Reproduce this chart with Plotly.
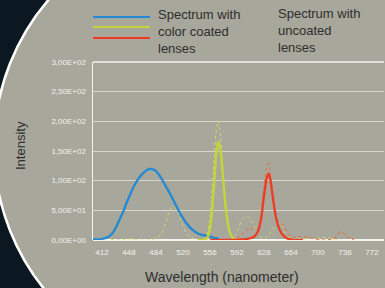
import plotly.graph_objects as go

# ---------------- data ----------------
blue_x = [400, 404, 408, 412, 416, 420, 424, 428, 432, 436, 440, 444, 448, 452, 456, 460, 464, 468, 472, 476,
          480, 484, 488, 492, 496, 500, 504, 508, 512, 516, 520, 524, 528, 532, 536, 540, 544, 548, 552, 556, 560, 564, 568]
blue_y = [1, 1, 1, 2, 3, 5, 9, 15, 25, 36, 47, 60, 72, 84, 94, 102, 109, 114, 118, 120,
          119, 116, 110, 102, 93, 84, 75, 65, 55, 45, 37, 29, 23, 18, 14, 11, 9, 8, 7, 6, 4, 3, 2]

yel_x = [540, 548, 552, 556, 560, 564, 567, 570, 574, 578, 582, 586, 590, 596]
yel_y = [0, 0, 3, 20, 70, 140, 166, 150, 95, 45, 15, 4, 1, 0]

red_x = [556, 580, 600, 610, 616, 620, 624, 628, 632, 634, 636, 640, 644, 648, 652, 656, 660, 666, 680]
red_y = [0, 0, 1, 3, 7, 15, 35, 75, 106, 112, 105, 70, 38, 20, 10, 5, 2, 0, 0]

yel_unc_x = [400, 420, 430, 448, 460, 480, 490, 496, 500, 504, 508, 512, 516, 520, 524, 530, 540, 548, 552, 556,
             560, 564, 567, 570, 574, 578, 582, 586, 590, 594, 598, 602, 606, 610, 614, 618, 622, 626, 632, 638,
             644, 648, 652, 656, 660, 666, 680, 700, 710, 720, 730]
yel_unc_y = [0, 2, 0, 2, 0, 1, 8, 25, 42, 53, 56, 50, 38, 24, 12, 4, 1, 2, 10, 40,
             110, 180, 200, 175, 100, 40, 12, 5, 8, 20, 33, 38, 39, 35, 25, 12, 5, 3, 5, 15,
             25, 28, 24, 14, 6, 2, 2, 3, 4, 2, 0]

red_unc_x = [560, 580, 590, 596, 600, 606, 612, 616, 620, 624, 628, 632, 634, 636, 640, 644, 648, 652, 656, 660,
             666, 672, 680, 690, 700, 710, 720, 726, 730, 734, 738, 742, 748]
red_unc_y = [0, 1, 2, 6, 12, 18, 20, 18, 18, 40, 90, 125, 129, 115, 70, 40, 28, 27, 20, 10,
             4, 5, 6, 4, 1, 0, 2, 8, 14, 12, 6, 3, 1]

x_ticks = [412, 448, 484, 520, 556, 592, 628, 664, 700, 736, 772]
y_ticks = [0, 50, 100, 150, 200, 250, 300]
y_tick_labels = ["0,00E+00", "5,00E+01", "1,00E+02", "1,50E+02", "2,00E+02", "2,50E+02", "3,00E+02"]

# ---------------- style ----------------
W, H = 385, 288
L, R, T, B = 93, 1, 62, 48
PW, PH = W - L - R, H - T - B
DARK = "#0b1721"
GREY = "#a7a79b"
TXT = "#2e2e2e"
BLUE = "#2389d4"
YEL = "#c4d43c"
RED = "#ee3b22"


def px(xp):
    return (xp - L) / PW


def py(yp):
    return (T + PH - yp) / PH


fig = go.Figure()
fig.add_trace(go.Scatter(x=yel_unc_x, y=yel_unc_y, mode="lines",
                         line=dict(color="#d2da6a", width=1, dash="dot", shape="spline")))
fig.add_trace(go.Scatter(x=red_unc_x, y=red_unc_y, mode="lines",
                         line=dict(color="#e8714e", width=1.2, dash="dot", shape="spline")))
fig.add_trace(go.Scatter(x=blue_x, y=blue_y, mode="lines",
                         line=dict(color=BLUE, width=2.3, shape="spline")))
fig.add_trace(go.Scatter(x=yel_x, y=yel_y, mode="lines",
                         line=dict(color=YEL, width=2.5, shape="spline")))
fig.add_trace(go.Scatter(x=red_x, y=red_y, mode="lines",
                         line=dict(color=RED, width=2.3, shape="spline")))

shapes = []
# big grey disc with white rim
cx, cy, r = 220, 147, 226
shapes.append(dict(type="circle", xref="paper", yref="paper",
                   x0=px(cx - r), x1=px(cx + r), y0=py(cy + r), y1=py(cy - r),
                   fillcolor=GREY, line=dict(color="white", width=2.5), layer="below"))
# top line
shapes.append(dict(type="line", xref="paper", yref="paper", x0=0, x1=1, y0=1, y1=1,
                   line=dict(color="#f4f4f0", width=1.5)))
# legend swatches
for yy, col in [(17, BLUE), (27, YEL), (38, RED)]:
    shapes.append(dict(type="line", xref="paper", yref="paper",
                       x0=px(93), x1=px(150), y0=py(yy), y1=py(yy),
                       line=dict(color=col, width=2)))

annotations = [
    dict(text="Spectrum with<br>color coated<br>lenses", xref="paper", yref="paper",
         x=px(156), y=py(5), xanchor="left", yanchor="top", align="left", showarrow=False,
         font=dict(size=13, color=TXT, family="Liberation Sans")),
    dict(text="Spectrum with<br>uncoated<br>lenses", xref="paper", yref="paper",
         x=px(276), y=py(4), xanchor="left", yanchor="top", align="left", showarrow=False,
         font=dict(size=13, color=TXT, family="Liberation Sans")),
    dict(text="Wavelength (nanometer)", xref="paper", yref="paper",
         x=px(222), y=py(277), xanchor="center", yanchor="middle", showarrow=False,
         font=dict(size=14, color=TXT, family="Liberation Sans")),
    dict(text="Intensity", xref="paper", yref="paper", textangle=-90,
         x=px(20), y=py(146), xanchor="center", yanchor="middle", showarrow=False,
         font=dict(size=13, color=TXT, family="Liberation Sans")),
]

fig.update_layout(
    width=W, height=H,
    margin=dict(l=L, r=R, t=T, b=B, pad=0),
    paper_bgcolor=DARK,
    plot_bgcolor="rgba(0,0,0,0)",
    showlegend=False,
    hovermode=False,
    shapes=shapes,
    annotations=annotations,
    xaxis=dict(range=[400, 788], tickvals=x_ticks, ticktext=[str(v) for v in x_ticks],
               showgrid=False, zeroline=False, showline=False, ticks="",
               tickfont=dict(size=8, color="#f2f2ee", family="Liberation Sans Narrow, Liberation Sans"),
               ticklabelstandoff=6),
    yaxis=dict(range=[0, 300], tickvals=y_ticks, ticktext=y_tick_labels,
               showgrid=True, gridcolor="#d6d6ce", gridwidth=1,
               zeroline=True, zerolinecolor="#f4f4f0", zerolinewidth=1.5,
               showline=True, linecolor="#f4f4f0", linewidth=1.5, ticks="",
               tickfont=dict(size=8, color="#f2f2ee", family="Liberation Sans Narrow, Liberation Sans"),
               ticklabelstandoff=4),
)

fig.write_html("out.html", config={"displayModeBar": False, "staticPlot": True},
               post_script="document.body.style.margin='0';document.body.style.padding='0';"
                           "document.documentElement.style.overflow='hidden';")
